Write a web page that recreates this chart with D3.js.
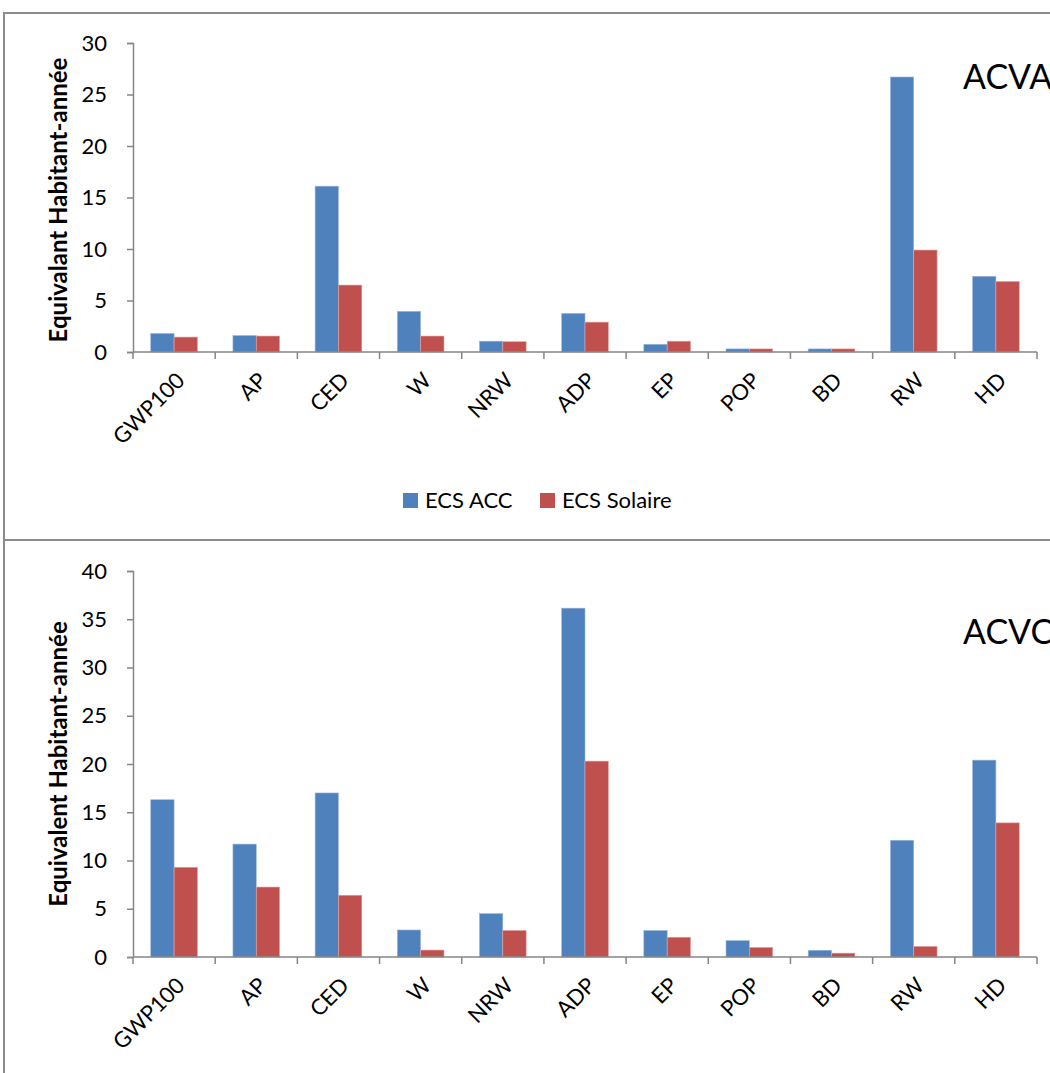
<!DOCTYPE html>
<html><head><meta charset="utf-8">
<script src="https://cdn.jsdelivr.net/npm/d3@7"></script>
<style>body{margin:0;background:#fff}svg{display:block}</style>
</head><body>
<script>
const categories = ["GWP100","AP","CED","W","NRW","ADP","EP","POP","BD","RW","HD"];
const seriesNames = ["ECS ACC","ECS Solaire"];
const acvaACC     = [1.8, 1.6, 16.1, 3.95, 1.05, 3.75, 0.75, 0.3, 0.3, 26.7, 7.35];
const acvaSolaire = [1.45, 1.55, 6.5, 1.55, 1.0, 2.9, 1.05, 0.3, 0.3, 9.9, 6.85];
const acvcACC     = [16.3, 11.7, 17.0, 2.8, 4.5, 36.15, 2.75, 1.7, 0.7, 12.1, 20.4];
const acvcSolaire = [9.3, 7.25, 6.4, 0.72, 2.75, 20.3, 2.05, 1.0, 0.4, 1.1, 13.9];
const ticksA = [0,5,10,15,20,25,30];
const ticksC = [0,5,10,15,20,25,30,35,40];
const colors = ["#4F81BD","#C0504D"];
const FONT = "Lato, 'Open Sans', sans-serif";

const svg = d3.select("body").append("svg").attr("width",1050).attr("height",1073);

// frames
const frame = "#8c8c8c";
svg.append("line").attr("x1",4).attr("x2",1050).attr("y1",13).attr("y2",13).attr("stroke",frame).attr("stroke-width",2);
svg.append("line").attr("x1",4).attr("x2",4).attr("y1",12).attr("y2",1073).attr("stroke",frame).attr("stroke-width",2);
svg.append("line").attr("x1",4).attr("x2",1050).attr("y1",540).attr("y2",540).attr("stroke",frame).attr("stroke-width",2);

function drawChart(cfg){
  const g = svg.append("g");
  const x = d3.scaleBand().domain(categories).range([133,1037]).paddingInner(0).paddingOuter(0);
  const y = d3.scaleLinear().domain([0,cfg.max]).range([cfg.y0,cfg.yTop]);
  const x1 = d3.scaleBand().domain(seriesNames).range([0,x.bandwidth()]).paddingOuter(0.76).paddingInner(0);
  const data = [cfg.s1, cfg.s2];

  seriesNames.forEach((s,si)=>{
    g.selectAll(null).data(categories).enter().append("rect")
      .attr("x",c=>x(c)+x1(s))
      .attr("width",x1.bandwidth())
      .attr("y",(c,i)=>y(data[si][i]))
      .attr("height",(c,i)=>cfg.y0-y(data[si][i]))
      .attr("fill",colors[si])
      .attr("stroke", si===0 ? "#9fb9dc" : "#e3a5a3").attr("stroke-width",0.6);
  });

  // y axis
  const ya = g.append("g").attr("transform",`translate(133,0)`)
    .call(d3.axisLeft(y).tickValues(cfg.ticks).tickSize(6).tickPadding(20).tickFormat(d3.format("d")));
  ya.select(".domain").attr("stroke","#868686").attr("stroke-width",1.5);
  ya.selectAll(".tick line").attr("stroke","#868686").attr("stroke-width",1.5);
  ya.selectAll("text").attr("font-family",FONT).attr("font-size",22).attr("fill","#000");

  // x axis
  const xa = g.append("g").attr("transform",`translate(0,${cfg.y0})`);
  xa.append("line").attr("x1",133).attr("x2",1037).attr("stroke","#868686").attr("stroke-width",1.5);
  const edges = categories.map(c=>x(c)).concat([x.range()[1]]);
  xa.selectAll(null).data(edges).enter().append("line")
    .attr("x1",d=>d).attr("x2",d=>d).attr("y1",0).attr("y2",7)
    .attr("stroke","#868686").attr("stroke-width",1.5);
  xa.selectAll(null).data(categories).enter().append("text")
    .attr("transform",c=>`translate(${x(c)+x.bandwidth()/2+1},19) rotate(-45)`)
    .attr("text-anchor","end").attr("dy","0.7em")
    .attr("font-family",FONT).attr("font-size",22).attr("fill","#000")
    .text(c=>c);

  // y label
  g.append("text")
    .attr("transform",`translate(67,${cfg.labelY}) rotate(-90)`)
    .attr("text-anchor","middle")
    .attr("font-family",FONT).attr("font-weight","bold").attr("font-size",24).attr("fill","#000")
    .text(cfg.ylabel);

  // title
  g.append("text").attr("x",963).attr("y",cfg.titleY)
    .attr("font-family",FONT).attr("font-size",34).attr("fill","#000").text(cfg.title);
}

drawChart({s1:acvaACC,s2:acvaSolaire,max:30,ticks:ticksA,y0:352,yTop:43,
  ylabel:"Equivalant Habitant-année",labelY:200,title:"ACVA",titleY:89});
drawChart({s1:acvcACC,s2:acvcSolaire,max:40,ticks:ticksC,y0:957,yTop:571,
  ylabel:"Equivalent Habitant-année",labelY:764,title:"ACVC",titleY:644});

// legend
const lg = svg.append("g");
const legX = [403,540];
seriesNames.forEach((s,i)=>{
  lg.append("rect").attr("x",legX[i]).attr("y",493).attr("width",15).attr("height",15).attr("fill",colors[i]);
  lg.append("text").attr("x",legX[i]+22).attr("y",508).attr("font-family",FONT).attr("font-size",22).attr("fill","#000").text(s);
});
</script>
</body></html>
